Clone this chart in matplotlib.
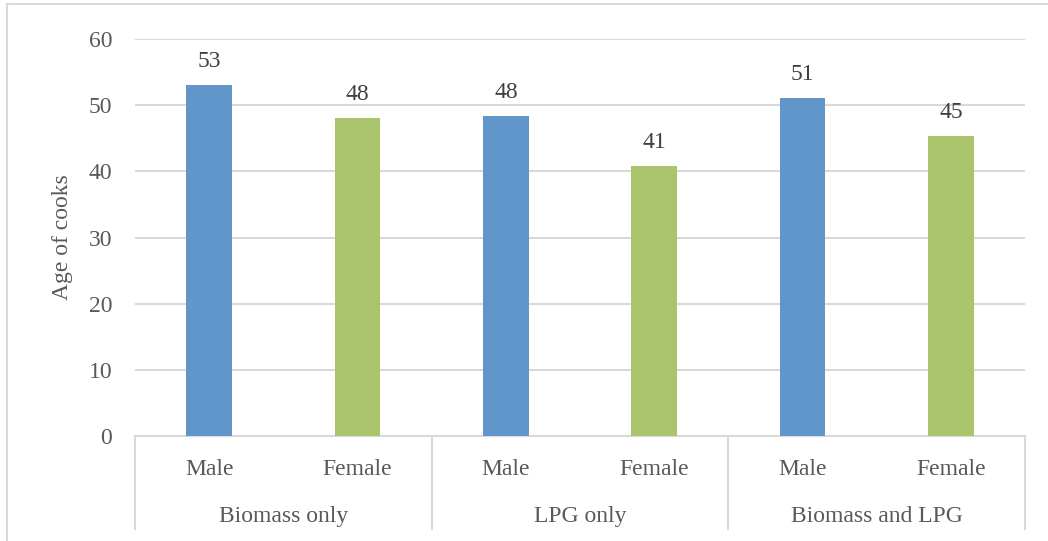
import matplotlib
matplotlib.use("Agg")
import matplotlib.pyplot as plt
from matplotlib.lines import Line2D

# Mean age of cooks by fuel type and sex
groups = ["Biomass only", "LPG only", "Biomass and LPG"]
sexes = ["Male", "Female"]
ages = [53.1, 48.1, 48.4, 40.8, 51.1, 45.3]
y_ticks = [0, 10, 20, 30, 40, 50, 60]

blue = "#6096C9"
green = "#A9C46B"
grid_c = "#D9D9D9"
text_c = "#595959"
label_c = "#404040"
fs = 17

plt.rcParams["font.family"] = ["Liberation Serif", "DejaVu Serif"]

fig = plt.figure(figsize=(10.48, 5.41), dpi=100)
W, H = 1048, 541
left, right, top, bottom = 135, 1025, 39, 436
ax = fig.add_axes([left / W, 1 - bottom / H, (right - left) / W, (bottom - top) / H])

n = len(ages)
xs = list(range(n))
colors = [blue if i % 2 == 0 else green for i in xs]
bars = ax.bar(xs, ages, width=0.31, color=colors, zorder=3)

for x, v in zip(xs, ages):
    ax.annotate(f"{v:.0f}", (x, v), xytext=(0, 13), textcoords="offset points",
                ha="center", va="baseline", fontsize=fs, color=label_c)

ax.set_xlim(-0.5, n - 0.5)
ax.set_ylim(0, 60)
ax.set_yticks(y_ticks)
ax.yaxis.grid(True, color=grid_c, linewidth=1.5, zorder=0)
ax.set_axisbelow(True)
ax.tick_params(axis="y", length=0, pad=16.5, labelsize=fs, labelcolor=text_c)
ax.set_xticks([])
for s in ["left", "right", "top"]:
    ax.spines[s].set_visible(False)
ax.spines["bottom"].set_color(grid_c)
ax.spines["bottom"].set_linewidth(1.5)

ax.set_ylabel("Age of cooks", fontsize=fs, color=text_c)
ax.yaxis.set_label_coords(-0.070, 0.5)

# two-level category axis
span = bottom - top
def ay(py):
    return (bottom - py) / span

trans = ax.get_xaxis_transform()
for i in xs:
    ax.text(i, ay(475), sexes[i % 2], transform=trans, ha="center", va="baseline",
            fontsize=fs, color=text_c)
for g, name in enumerate(groups):
    ax.text(2 * g + 0.5, ay(522), name, transform=trans, ha="center", va="baseline",
            fontsize=fs, color=text_c)
for b in [-0.5, 1.5, 3.5, 5.5]:
    ax.add_line(Line2D([b, b], [0, ay(529)], transform=trans, color=grid_c,
                       linewidth=1.5, clip_on=False))

# chart frame (top and left edges)
fig.add_artist(Line2D([7 / W, 1], [1 - 4 / H, 1 - 4 / H], color=grid_c, linewidth=1.5))
fig.add_artist(Line2D([7 / W, 7 / W], [0, 1 - 4 / H], color=grid_c, linewidth=1.5))

fig.savefig("out.png", dpi=100, facecolor="white")
